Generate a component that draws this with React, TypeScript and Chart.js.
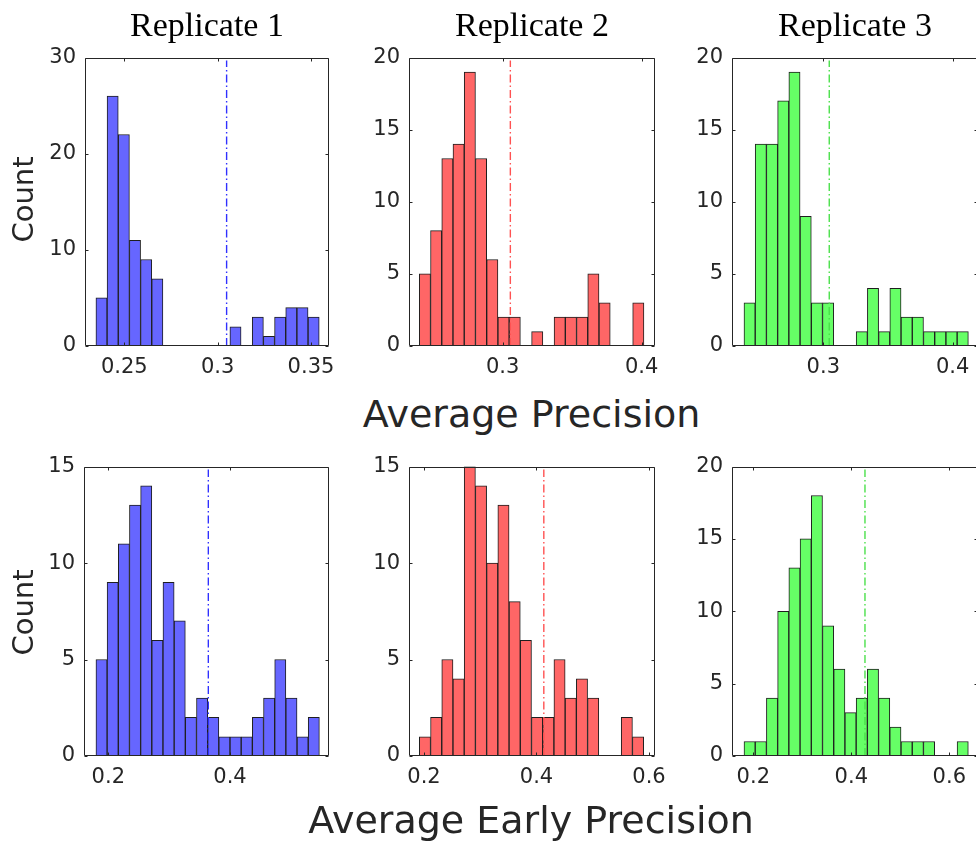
import React, { useEffect, useRef } from "react";
import { Chart, registerables } from "chart.js";

Chart.register(...registerables);

// ---- Data: histogram counts (20 bins per panel) ----
const apRep1Counts = [5, 26, 22, 11, 9, 7, 0, 0, 0, 0, 0, 0, 2, 0, 3, 1, 3, 4, 4, 3];
const apRep2Counts = [5, 8, 13, 14, 19, 13, 6, 2, 2, 0, 1, 0, 2, 2, 2, 5, 3, 0, 0, 3];
const apRep3Counts = [3, 14, 14, 17, 19, 9, 3, 3, 0, 0, 1, 4, 1, 4, 2, 2, 1, 1, 1, 1];
const aepRep1Counts = [5, 9, 11, 13, 14, 6, 9, 7, 2, 3, 2, 1, 1, 1, 2, 3, 5, 3, 1, 2];
const aepRep2Counts = [1, 2, 5, 4, 15, 14, 10, 13, 8, 6, 2, 2, 5, 3, 4, 3, 0, 0, 2, 1];
const aepRep3Counts = [1, 1, 4, 10, 13, 15, 18, 9, 6, 3, 4, 6, 4, 2, 1, 1, 1, 0, 0, 1];

// first bin edge and bin width per panel
const binStarts = [0.2348, 0.24, 0.2387, 0.1797, 0.1917, 0.181];
const binWidths = [0.00598, 0.00808, 0.00867, 0.01836, 0.01994, 0.02289];
// dash-dot reference line per panel
const thresholds = [0.3048, 0.3055, 0.3046, 0.3644, 0.413, 0.4279];

// axis limits and ticks
const xMins = [0.22895, 0.23259, 0.22944, 0.16007, 0.17333, 0.15653];
const xMaxs = [0.35964, 0.40957, 0.41955, 0.5627, 0.61067, 0.65857];
const xTicksTop1 = [0.25, 0.3, 0.35];
const xTicksTop23 = [0.3, 0.4];
const xTicksBottom1 = [0.2, 0.4];
const xTicksBottom23 = [0.2, 0.4, 0.6];
const yMaxs = [30, 20, 20, 15, 15, 20];
const ySteps = [10, 5, 5, 5, 5, 5];

const titles = ["Replicate 1", "Replicate 2", "Replicate 3"];
const yLabel = "Count";
const xLabelTop = "Average Precision";
const xLabelBottom = "Average Early Precision";

const faceColors = ["#6666ff", "#ff6666", "#66ff66"];
const lineColors = ["#3030ff", "#ff5252", "#4ae04a"];

// ---- Layout ----
const AXIS = "#262626";
const YW = 70;
const XH = 45;
const PT = 16;
const PR = 30;

type PanelGeom = { L: number; T: number; W: number; H: number };
const geoms: PanelGeom[] = [
  { L: 85, T: 52, W: 244, H: 294 },
  { L: 409, T: 52, W: 246, H: 294 },
  { L: 732, T: 52, W: 246, H: 294 },
  { L: 84, T: 461, W: 245, H: 295 },
  { L: 409, T: 461, W: 246, H: 295 },
  { L: 732, T: 461, W: 246, H: 295 },
];

const boxPlugin = {
  id: "matlabBox",
  afterDatasetsDraw(chart: any) {
    const { ctx, chartArea: a, scales } = chart;
    ctx.save();
    ctx.strokeStyle = AXIS;
    ctx.lineWidth = 1;
    const L = Math.round(a.left) + 0.5;
    const R = Math.round(a.right) - 0.5;
    const T = Math.round(a.top) + 0.5;
    const B = Math.round(a.bottom) - 0.5;
    ctx.beginPath();
    ctx.rect(L, T, R - L, B - T);
    ctx.stroke();
    const tl = 3;
    ctx.beginPath();
    scales.x.ticks.forEach((t: any) => {
      const px = Math.round(scales.x.getPixelForValue(t.value)) + 0.5;
      ctx.moveTo(px, B);
      ctx.lineTo(px, B - tl);
      ctx.moveTo(px, T);
      ctx.lineTo(px, T + tl);
    });
    scales.y.ticks.forEach((t: any) => {
      const py = Math.round(scales.y.getPixelForValue(t.value)) + 0.5;
      ctx.moveTo(L, py);
      ctx.lineTo(L + tl, py);
      ctx.moveTo(R, py);
      ctx.lineTo(R - tl, py);
    });
    ctx.stroke();
    ctx.restore();
  },
};

type PanelProps = {
  idx: number;
  counts: number[];
  xTicks: number[];
  colorIdx: number;
};

function Panel({ idx, counts, xTicks, colorIdx }: PanelProps) {
  const ref = useRef<HTMLCanvasElement | null>(null);
  const g = geoms[idx];
  const cw = YW + g.W + PR;
  const ch = PT + g.H + XH;

  useEffect(() => {
    if (!ref.current) return;
    const start = binStarts[idx];
    const w = binWidths[idx];
    const thr = thresholds[idx];
    const yMax = yMaxs[idx];
    const chart = new Chart(ref.current, {
      type: "bar",
      data: {
        datasets: [
          {
            type: "line",
            data: [
              { x: thr, y: 0 },
              { x: thr, y: yMax * 0.99 },
            ],
            borderColor: lineColors[colorIdx],
            borderWidth: 1.4,
            borderDash: [8, 3, 1.5, 3],
            pointRadius: 0,
            order: 0,
          } as any,
          {
            type: "bar",
            data: counts.map((c, i) => ({ x: start + (i + 0.5) * w, y: c })),
            backgroundColor: faceColors[colorIdx],
            borderColor: "#1e1e1e",
            borderWidth: 1,
            barPercentage: 1,
            categoryPercentage: 1,
            order: 1,
          } as any,
        ],
      },
      options: {
        animation: false,
        responsive: false,
        maintainAspectRatio: false,
        events: [],
        layout: { padding: { top: PT, right: PR, left: 0, bottom: 0 } },
        plugins: {
          legend: { display: false },
          tooltip: { enabled: false },
          title: { display: false },
        },
        scales: {
          x: {
            type: "linear",
            min: xMins[idx],
            max: xMaxs[idx],
            offset: false,
            grid: { display: false, drawTicks: false, offset: false },
            border: { display: false },
            afterBuildTicks: (ax: any) => {
              ax.ticks = xTicks.map((v) => ({ value: v }));
            },
            afterFit: (ax: any) => {
              ax.height = XH;
            },
            ticks: {
              font: { family: "DejaVu Sans", size: 21 },
              color: AXIS,
              padding: 9,
              maxRotation: 0,
              autoSkip: false,
              callback: (v: any) => String(v),
            },
          },
          y: {
            min: 0,
            max: yMax,
            grid: { display: false, drawTicks: false },
            border: { display: false },
            afterFit: (ax: any) => {
              ax.width = YW;
            },
            ticks: {
              stepSize: ySteps[idx],
              font: { family: "DejaVu Sans", size: 21 },
              color: AXIS,
              padding: 9,
            },
          },
        },
      } as any,
      plugins: [boxPlugin],
    });
    return () => chart.destroy();
  }, [idx, counts, xTicks, colorIdx]);

  return (
    <canvas
      ref={ref}
      width={cw}
      height={ch}
      style={{
        position: "absolute",
        left: g.L - YW,
        top: g.T - PT,
        width: cw,
        height: ch,
      }}
    />
  );
}

const textBase: React.CSSProperties = {
  position: "absolute",
  color: AXIS,
  whiteSpace: "nowrap",
  textAlign: "center",
};

export default function App() {
  const panels = [
    { counts: apRep1Counts, xTicks: xTicksTop1, colorIdx: 0 },
    { counts: apRep2Counts, xTicks: xTicksTop23, colorIdx: 1 },
    { counts: apRep3Counts, xTicks: xTicksTop23, colorIdx: 2 },
    { counts: aepRep1Counts, xTicks: xTicksBottom1, colorIdx: 0 },
    { counts: aepRep2Counts, xTicks: xTicksBottom23, colorIdx: 1 },
    { counts: aepRep3Counts, xTicks: xTicksBottom23, colorIdx: 2 },
  ];
  return (
    <div
      style={{
        position: "absolute",
        left: 0,
        top: 0,
        width: 976,
        height: 842,
        overflow: "hidden",
        background: "#ffffff",
      }}
    >
      {panels.map((p, i) => (
        <Panel key={i} idx={i} counts={p.counts} xTicks={p.xTicks} colorIdx={p.colorIdx} />
      ))}
      {titles.map((t, i) => {
        const g = geoms[i];
        const cx = g.L + g.W / 2;
        return (
          <div
            key={"t" + i}
            style={{
              ...textBase,
              color: "#000",
              left: cx - 150,
              width: 300,
              top: 8,
              fontFamily: "'Liberation Serif', serif",
              fontSize: 34,
              lineHeight: "34px",
            }}
          >
            {t}
          </div>
        );
      })}
      {[199, 612].map((cy, i) => (
        <div
          key={"y" + i}
          style={{
            ...textBase,
            left: 23 - 100,
            width: 200,
            top: cy - 14.5,
            fontFamily: "'DejaVu Sans', sans-serif",
            fontSize: 29,
            lineHeight: "29px",
            transform: "rotate(-90deg)",
          }}
        >
          {yLabel}
        </div>
      ))}
      <div
        style={{
          ...textBase,
          left: 531.5 - 300,
          width: 600,
          top: 395,
          fontFamily: "'DejaVu Sans', sans-serif",
          fontSize: 38,
          lineHeight: "38px",
        }}
      >
        {xLabelTop}
      </div>
      <div
        style={{
          ...textBase,
          left: 531 - 300,
          width: 600,
          top: 801,
          fontFamily: "'DejaVu Sans', sans-serif",
          fontSize: 38,
          lineHeight: "38px",
        }}
      >
        {xLabelBottom}
      </div>
    </div>
  );
}
